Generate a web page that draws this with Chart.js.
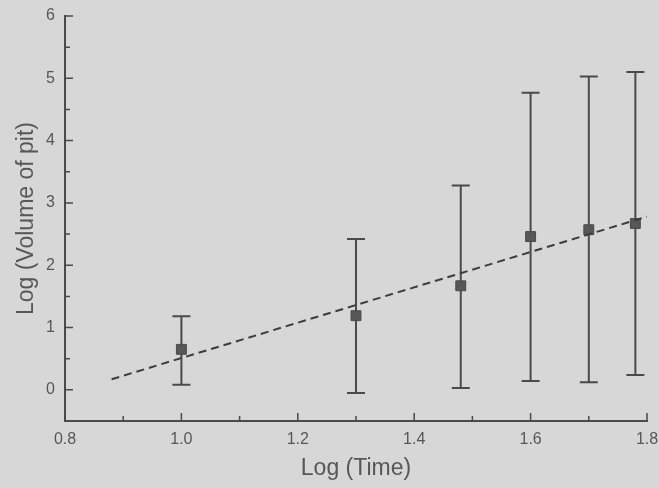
<!DOCTYPE html>
<html>
<head>
<meta charset="utf-8">
<script src="https://cdn.jsdelivr.net/npm/chart.js@4"></script>
<style>
  html,body{margin:0;padding:0;background:#d7d7d7}
  #wrap{width:659px;height:488px}
</style>
</head>
<body>
<div id="wrap"><canvas id="c"></canvas></div>
<script>
/* ---- data ------------------------------------------------------------ */
const TIME     = [1.0, 1.3, 1.48, 1.6, 1.7, 1.78];
const VOLUME   = [0.65, 1.19, 1.67, 2.46, 2.57, 2.67];
const ERR_LOW  = [0.08, -0.05, 0.03, 0.14, 0.12, 0.24];
const ERR_HIGH = [1.18, 2.42, 3.28, 4.77, 5.03, 5.10];
const FIT_X = [0.88, 1.8];
const FIT_Y = [0.17, 2.78];

const X_MAJOR = [0.8, 1.0, 1.2, 1.4, 1.6, 1.8];
const X_MINOR = [0.9, 1.1, 1.3, 1.5, 1.7];
const Y_MAJOR = [0, 1, 2, 3, 4, 5, 6];
const Y_MINOR = [-0.5, 0.5, 1.5, 2.5, 3.5, 4.5, 5.5];

const INK = "#4a4a4a", TXT = "#575757";

/* ---- error bars (drawn under the markers) ---------------------------- */
const errorBars = {
  id: "errorBars",
  beforeDatasetsDraw(chart){
    const {ctx, scales:{x, y}} = chart;
    ctx.save();
    ctx.strokeStyle = INK; ctx.lineWidth = 2;
    TIME.forEach((t,i)=>{
      const px = x.getPixelForValue(t);
      const lo = y.getPixelForValue(ERR_LOW[i]), hi = y.getPixelForValue(ERR_HIGH[i]);
      ctx.beginPath();
      ctx.moveTo(px, lo); ctx.lineTo(px, hi);
      ctx.moveTo(px-9, lo); ctx.lineTo(px+9, lo);
      ctx.moveTo(px-9, hi); ctx.lineTo(px+9, hi);
      ctx.stroke();
    });
    ctx.restore();
  }
};

/* ---- inward tick marks ----------------------------------------------- */
const inTicks = {
  id: "inTicks",
  afterDraw(chart){
    const {ctx, chartArea:a, scales:{x, y}} = chart;
    ctx.save();
    ctx.strokeStyle = INK; ctx.lineWidth = 1.5;
    ctx.beginPath();
    const vx = (v,len)=>{ const p = x.getPixelForValue(v); ctx.moveTo(p, a.bottom); ctx.lineTo(p, a.bottom-len); };
    const vy = (v,len)=>{ const p = y.getPixelForValue(v); ctx.moveTo(a.left, p); ctx.lineTo(a.left+len, p); };
    X_MAJOR.forEach(v=>vx(v,8)); X_MINOR.forEach(v=>vx(v,5));
    Y_MAJOR.forEach(v=>vy(v,8)); Y_MINOR.forEach(v=>vy(v,5));
    ctx.stroke();
    ctx.restore();
  }
};

/* ---- chart ----------------------------------------------------------- */
new Chart(document.getElementById("c"), {
  type: "scatter",
  data: {
    datasets: [
      { type:"line", data: FIT_X.map((v,i)=>({x:v, y:FIT_Y[i]})),
        borderColor:"#3c3c3c", borderWidth:2, borderDash:[8,5], pointRadius:0, fill:false },
      { data: TIME.map((v,i)=>({x:v, y:VOLUME[i]})),
        pointStyle:"rect", pointRadius:7, backgroundColor:"#575757", borderColor:"#4a4a4a", borderWidth:1 }
    ]
  },
  options: {
    responsive:true, maintainAspectRatio:false, animation:false,
    layout:{ padding:{ top:16, right:12, left:0, bottom:0 } },
    plugins:{ legend:{display:false}, tooltip:{enabled:false} },
    scales:{
      x:{ type:"linear", min:0.8, max:1.8,
        afterBuildTicks: s=>{ s.ticks = X_MAJOR.map(v=>({value:v})); },
        afterFit: s=>{ s.height = 67; s.paddingLeft = 0; s.paddingRight = 0; },
        grid:{ display:false, drawTicks:false },
        border:{ display:true, color:INK, width:2 },
        ticks:{ padding:9, color:TXT, font:{family:"Liberation Sans, Arial", size:16}, callback:v=>(+v).toFixed(1) },
        title:{ display:true, text:"Log (Time)", color:TXT, padding:{top:0,bottom:6},
          font:{family:"Liberation Sans, Arial", size:23} } },
      y:{ type:"linear", min:-0.5, max:6,
        afterBuildTicks: s=>{ s.ticks = Y_MAJOR.map(v=>({value:v})); },
        afterFit: s=>{ s.width = 65; s.paddingTop = 0; s.paddingBottom = 0; },
        grid:{ display:false, drawTicks:false },
        border:{ display:true, color:INK, width:2 },
        ticks:{ padding:10, color:TXT, font:{family:"Liberation Sans, Arial", size:16} },
        title:{ display:true, text:"Log (Volume of pit)", color:TXT, padding:{top:13,bottom:0},
          font:{family:"Liberation Sans, Arial", size:23} } }
    }
  },
  plugins:[errorBars, inTicks]
});
</script>
</body>
</html>
